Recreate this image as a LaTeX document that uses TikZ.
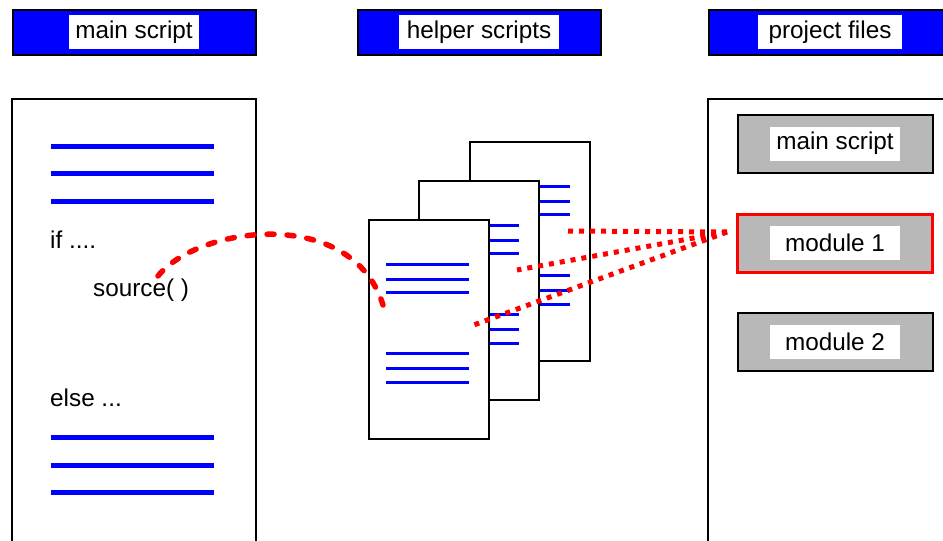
\documentclass[tikz,border=0pt]{standalone}
\usepackage{fontspec}
\setmainfont{Liberation Sans}
\usetikzlibrary{calc}
\definecolor{boxgray}{RGB}{184,184,184}
\begin{document}
\begin{tikzpicture}[x=1pt,y=-1pt,
  txt/.style={font=\fontsize{24.3}{28}\selectfont},
  hdr/.style={draw=black, line width=2pt, fill=blue, minimum height=45pt, inner sep=0pt},
  lbl/.style={txt, fill=white, minimum height=34pt, inner sep=0pt},
  panel/.style={draw=black, line width=2pt},
  codeline/.style={draw=blue, line width=5pt},
  pageline/.style={draw=blue, line width=3pt},
  pagebox/.style={draw=black, line width=2pt, fill=white, minimum width=120pt, minimum height=219pt, inner sep=0pt, anchor=north west},
  filebox/.style={draw=black, line width=2pt, fill=boxgray, minimum width=195pt, minimum height=58pt, inner sep=0pt},
  link/.style={draw=red, line width=5pt, dash pattern=on 5pt off 6pt},
  call/.style={draw=red, line width=5.5pt, line cap=round, dash pattern=on 7pt off 13pt}
]
\useasboundingbox (0,0) rectangle (943,541);

% headers
\node[hdr, minimum width=243pt] (h1) at (134,32) {};
\node[lbl, minimum width=130pt] (h1l) at (134,32) {main script};
\node[hdr, minimum width=243pt] (h2) at (479,32) {};
\node[lbl, minimum width=160pt] (h2l) at (479,32) {helper scripts};
\node[hdr, minimum width=243pt] (h3) at (830,32) {};
\node[lbl, minimum width=144pt] (h3l) at (830,32) {project files};

% left panel
\draw[panel] (12,545) -- (12,99) -- (256,99) -- (256,545);
\foreach \y in {146,173,201,437,465,492} \draw[codeline] (51,\y) -- (214,\y);
\node[txt, anchor=base west, inner sep=0pt] (iftxt) at (50,248) {if ....};
\node[txt, anchor=base west, inner sep=0pt] (src) at (93,296) {source( )};
\node[txt, anchor=base west, inner sep=0pt] (elsetxt) at (50,406) {else ...};

% right panel
\draw[panel] (708,545) -- (708,99) -- (950,99);
\node[filebox] (fmain) at (835,143.5) {};
\node[lbl, minimum width=130pt] (fmainl) at (835,143.5) {main script};
\node[filebox, draw=red, line width=3pt] (fm1) at (835,243) {};
\node[lbl, minimum width=130pt] (fm1l) at (835,243) {module 1};
\node[filebox] (fm2) at (835,341.5) {};
\node[lbl, minimum width=130pt] (fm2l) at (835,341.5) {module 2};

% pages
\foreach \px/\py/\nm in {469/141/pback, 418/180/pmid, 368/219/pfront} {
  \node[pagebox] (\nm) at (\px,\py) {};
  \foreach \dy in {45,60,73,134,149,163}
    \draw[pageline] ($(\px,\py)+(18,\dy)$) -- ($(\px,\py)+(101,\dy)$);
}

% links
\coordinate (conv) at (727,232);
\coordinate (e1) at (566,231);
\coordinate (e2) at (517,270);
\coordinate (e3) at (471,326);
\draw[link] (conv) -- (e1);
\draw[link] (conv) -- (e2);
\draw[link] (conv) -- (e3);

% call curve
\coordinate (cs) at (158,276);
\coordinate (ce) at (383,305);
\draw[call] (cs) .. controls (198,226) and (352,205) .. (ce);
\end{tikzpicture}
\end{document}
